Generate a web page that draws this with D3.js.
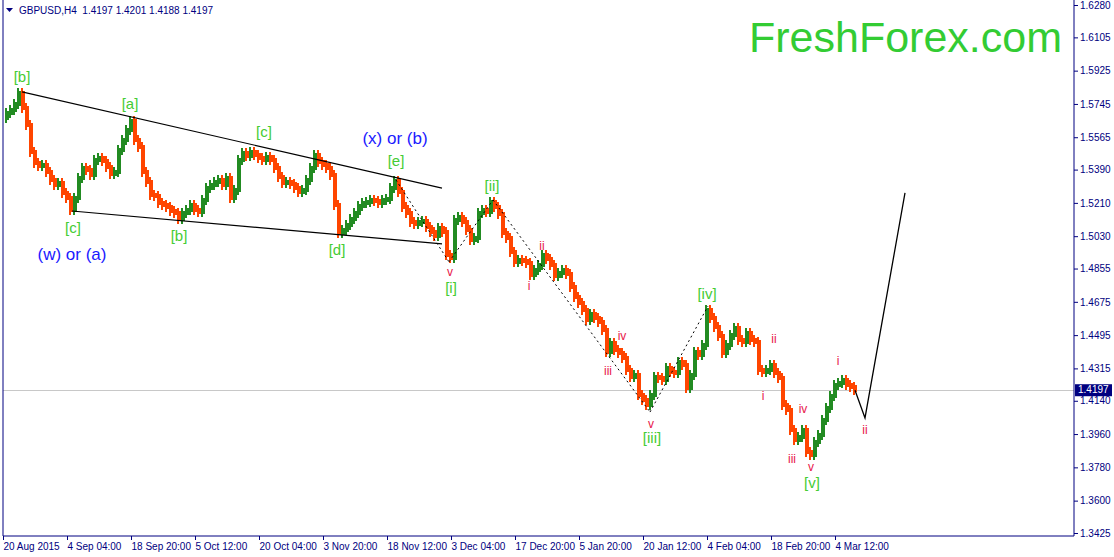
<!DOCTYPE html>
<html>
<head>
<meta charset="utf-8">
<script src="https://cdn.jsdelivr.net/npm/d3@7"></script>
<style>
  body { margin: 0; background: #fff; }
  svg { display: block; font-family: "Liberation Sans", Arial, sans-serif; }
</style>
</head>
<body>
<svg id="chart" width="1114" height="557"></svg>
<script>
/* Data: GBPUSD H4 closes, one every 4 bars starting 20 Aug 2015 */
var closes = [
  1.5669, 1.5696, 1.5712, 1.5744, 1.5804, 1.5723, 1.5631, 1.5485, 1.5426, 1.5410,
  1.5415, 1.5377, 1.5334, 1.5307, 1.5318, 1.5264, 1.5237, 1.5172, 1.5237, 1.5345,
  1.5399, 1.5388, 1.5361, 1.5442, 1.5453, 1.5437, 1.5404, 1.5366, 1.5377, 1.5496,
  1.5550, 1.5604, 1.5652, 1.5550, 1.5512, 1.5377, 1.5323, 1.5253, 1.5248, 1.5210,
  1.5199, 1.5188, 1.5167, 1.5156, 1.5123, 1.5156, 1.5172, 1.5199, 1.5172, 1.5161,
  1.5226, 1.5291, 1.5307, 1.5323, 1.5334, 1.5307, 1.5345, 1.5237, 1.5280, 1.5442,
  1.5480, 1.5464, 1.5485, 1.5469, 1.5453, 1.5442, 1.5458, 1.5442, 1.5399, 1.5350,
  1.5318, 1.5323, 1.5312, 1.5291, 1.5269, 1.5280, 1.5334, 1.5399, 1.5469, 1.5431,
  1.5415, 1.5399, 1.5361, 1.5199, 1.5048, 1.5064, 1.5091, 1.5123, 1.5156, 1.5194,
  1.5210, 1.5215, 1.5226, 1.5221, 1.5210, 1.5226, 1.5232, 1.5291, 1.5329, 1.5269,
  1.5188, 1.5156, 1.5107, 1.5096, 1.5107, 1.5113, 1.5080, 1.5053, 1.5032, 1.5075,
  1.5053, 1.4929, 1.4913, 1.5118, 1.5134, 1.5107, 1.5064, 1.5010, 1.5021, 1.5156,
  1.5172, 1.5161, 1.5215, 1.5188, 1.5150, 1.5048, 1.5021, 1.4945, 1.4891, 1.4902,
  1.4896, 1.4885, 1.4820, 1.4847, 1.4874, 1.4929, 1.4907, 1.4874, 1.4815, 1.4831,
  1.4847, 1.4826, 1.4755, 1.4701, 1.4669, 1.4631, 1.4577, 1.4610, 1.4588, 1.4566,
  1.4523, 1.4404, 1.4453, 1.4415, 1.4399, 1.4372, 1.4307, 1.4269, 1.4280, 1.4171,
  1.4144, 1.4117, 1.4171, 1.4269, 1.4263, 1.4253, 1.4317, 1.4296, 1.4290, 1.4350,
  1.4334, 1.4209, 1.4280, 1.4404, 1.4388, 1.4442, 1.4631, 1.4588, 1.4539, 1.4491,
  1.4399, 1.4442, 1.4496, 1.4534, 1.4469, 1.4458, 1.4507, 1.4469, 1.4458, 1.4307,
  1.4296, 1.4307, 1.4334, 1.4290, 1.4263, 1.4117, 1.4090, 1.3982, 1.3928, 1.3945,
  1.3982, 1.3863, 1.3847, 1.3917, 1.3955, 1.4036, 1.4101, 1.4166, 1.4226, 1.4236,
  1.4253, 1.4226, 1.4215, 1.4197
];
var barStep = 4;

var lastPrice = 1.4197;
var header = "GBPUSD,H4  1.4197 1.4201 1.4188 1.4197";

var priceTicks = [1.6280, 1.6105, 1.5925, 1.5745, 1.5565, 1.5390, 1.5210, 1.5030,
  1.4855, 1.4675, 1.4495, 1.4315, 1.4140, 1.3960, 1.3780, 1.3600, 1.3425];

var timeTicks = [0, 64, 128, 192, 256, 320, 384, 448, 512, 576, 640, 704, 768, 832];
var timeLabels = ["20 Aug 2015", "4 Sep 04:00", "18 Sep 20:00", "5 Oct 12:00",
  "20 Oct 04:00", "3 Nov 20:00", "18 Nov 12:00", "3 Dec 04:00", "17 Dec 20:00",
  "5 Jan 20:00", "20 Jan 12:00", "4 Feb 04:00", "18 Feb 20:00", "4 Mar 12:00"];

// [bar index, price]
var upperLine = [[19, 1.5810], [439, 1.5290]];
var lowerLine = [[69, 1.5166], [439, 1.4988]];
var dottedLines = [
  [[393, 1.5334], [446, 1.4891]],
  [[446, 1.4891], [490, 1.5226]],
  [[490, 1.5226], [647, 1.4079]],
  [[647, 1.4079], [705, 1.4652]]
];
var forecast = [[852, 1.4197], [862, 1.4047], [902, 1.5264]];

var greenLabels = [
  [19, 1.5885, "[b]"], [127, 1.5739, "[a]"], [261, 1.5588, "[c]"], [393, 1.5431, "[e]"],
  [489, 1.5296, "[ii]"], [704, 1.4712, "[iv]"], [70, 1.5069, "[c]"], [176, 1.5026, "[b]"],
  [334, 1.4950, "[d]"], [448, 1.4744, "[i]"], [649, 1.3933, "[iii]"], [809, 1.3690, "[v]"]
];
var blueLabels = [[392, 1.5550, "(x) or (b)"], [69, 1.4923, "(w) or (a)"]];
var redLabels = [
  [447, 1.4831, "v"], [539, 1.4971, "ii"], [526, 1.4755, "i"], [619, 1.4485, "iv"],
  [605, 1.4296, "iii"], [648, 1.4009, "v"], [771, 1.4469, "ii"], [760, 1.4160, "i"],
  [800, 1.4090, "iv"], [789, 1.3820, "iii"], [808, 1.3776, "v"], [835, 1.4350, "i"],
  [862, 1.3976, "ii"]
];

/* Scales */
var left = 3, right = 1074, bottom = 536;
var navy = "#000080";
var upColor = "#228b22", downColor = "#ff4500";

var x = d3.scaleLinear().domain([0, right - left]).range([left, right]);
var y = d3.scaleLinear().domain([1.3425, 1.6280]).range([533, 5]);

var svg = d3.select("svg#chart");

// current price line
svg.append("line")
  .attr("x1", left).attr("x2", right)
  .attr("y1", Math.round(y(lastPrice)) + 0.5).attr("y2", Math.round(y(lastPrice)) + 0.5)
  .attr("stroke", "#c8c8c8").attr("stroke-width", 1);

/* Bars */
var bars = closes.slice(1).map(function (c, i) {
  return { idx: (i + 1) * barStep, open: closes[i], close: c };
});

// two columns per bar: a longer one with wick, a shorter body
function drawBars(dx, pad) {
  svg.append("g")
    .attr("shape-rendering", "crispEdges")
    .selectAll("rect")
    .data(bars)
    .enter()
    .append("rect")
    .attr("x", d => x(d.idx) + dx)
    .attr("width", 2)
    .attr("y", d => y(Math.max(d.open, d.close)) - pad)
    .attr("height", d => y(Math.min(d.open, d.close)) - y(Math.max(d.open, d.close)) + 2 * pad)
    .attr("fill", d => d.close >= d.open ? upColor : downColor);
}
drawBars(-2, 5);
drawBars(0, 2);

/* Wave lines */
var line = d3.line().x(d => x(d[0])).y(d => y(d[1]));

svg.append("path").attr("d", line(upperLine))
  .attr("fill", "none").attr("stroke", "#000").attr("stroke-width", 1.2);
svg.append("path").attr("d", line(lowerLine))
  .attr("fill", "none").attr("stroke", "#000").attr("stroke-width", 1.2);

svg.append("g")
  .selectAll("path")
  .data(dottedLines)
  .enter()
  .append("path")
  .attr("d", line)
  .attr("fill", "none")
  .attr("stroke", "#000")
  .attr("stroke-width", 1)
  .attr("stroke-dasharray", "2,3");

svg.append("path").attr("d", line(forecast))
  .attr("fill", "none").attr("stroke", "#000").attr("stroke-width", 1.3);

/* Labels */
function labels(data, color, size) {
  svg.append("g")
    .selectAll("text")
    .data(data)
    .enter()
    .append("text")
    .attr("x", d => x(d[0]))
    .attr("y", d => y(d[1]))
    .attr("text-anchor", "middle")
    .attr("dominant-baseline", "middle")
    .attr("fill", color)
    .attr("font-size", size)
    .text(d => d[2]);
}
labels(greenLabels, "#44cc33", 15);
labels(blueLabels, "#1a1aff", 17);
labels(redLabels, "#e8174a", 12);

svg.append("text")
  .attr("x", 1062).attr("y", 52)
  .attr("text-anchor", "end")
  .attr("fill", "#33cc33")
  .attr("font-size", 43)
  .text("FreshForex.com");

/* Header */
svg.append("path")
  .attr("d", "M6,8 L13,8 L9.5,12 Z")
  .attr("fill", navy);
svg.append("text")
  .attr("x", 19).attr("y", 14)
  .attr("fill", navy)
  .attr("font-size", 10)
  .attr("xml:space", "preserve")
  .text(header);

/* Axes */
var yAxis = d3.axisRight(y)
  .tickValues(priceTicks)
  .tickFormat(d3.format(".4f"))
  .tickSize(4)
  .tickPadding(2);

var gy = svg.append("g")
  .attr("transform", `translate(${right},0)`)
  .call(yAxis);
gy.select(".domain").attr("d", `M0,0V${bottom}`);

var xAxis = d3.axisBottom(x)
  .tickValues(timeTicks)
  .tickFormat((d, i) => timeLabels[i])
  .tickSize(4)
  .tickPadding(3);

var gx = svg.append("g")
  .attr("transform", `translate(0,${bottom})`)
  .call(xAxis);
gx.select(".domain").attr("d", `M${left},0H${right}`);
gx.selectAll(".tick text").attr("text-anchor", "start").attr("dx", 0);

[gx, gy].forEach(function (g) {
  g.selectAll(".domain").attr("stroke", navy);
  g.selectAll(".tick line").attr("stroke", navy);
  g.selectAll(".tick text").attr("fill", navy).attr("font-size", 10)
    .attr("font-family", "Liberation Sans, Arial, sans-serif");
});

svg.append("line")
  .attr("x1", left).attr("x2", left).attr("y1", 0).attr("y2", bottom)
  .attr("stroke", navy);

// current price box
var box = svg.append("g").attr("transform", `translate(${right + 1},${y(lastPrice)})`);
box.append("rect")
  .attr("x", 0).attr("y", -6).attr("width", 37).attr("height", 12)
  .attr("fill", navy);
box.append("text")
  .attr("x", 3).attr("y", 0)
  .attr("dominant-baseline", "middle")
  .attr("fill", "#fff")
  .attr("font-size", 10)
  .text(d3.format(".4f")(lastPrice));
</script>
</body>
</html>
